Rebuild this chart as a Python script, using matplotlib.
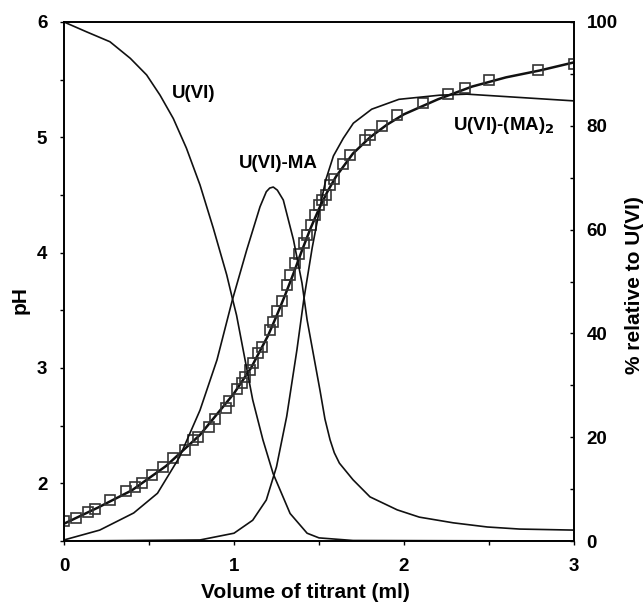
#!/usr/bin/env python3
import matplotlib
matplotlib.use("Agg")
import matplotlib.pyplot as plt
from matplotlib.ticker import MultipleLocator

plt.rcParams["font.family"] = ["Liberation Sans", "DejaVu Sans"]
plt.rcParams["font.weight"] = "bold"

# titration data (pH axis)
vol_points = [0.0, 0.07, 0.14, 0.18, 0.27, 0.365, 0.42, 0.46, 0.52, 0.58,
              0.64, 0.71, 0.76, 0.79, 0.85, 0.89, 0.95, 0.97, 1.02, 1.045,
              1.065, 1.094, 1.114, 1.143, 1.163, 1.21, 1.23, 1.25, 1.28, 1.31,
              1.33, 1.36, 1.38, 1.41, 1.43, 1.45, 1.476, 1.50, 1.52, 1.54,
              1.565, 1.59, 1.64, 1.68, 1.77, 1.80, 1.87, 1.96, 2.11, 2.26,
              2.36, 2.50, 2.79, 3.00]
ph_points = [1.67, 1.70, 1.75, 1.78, 1.855, 1.93, 1.97, 2.00, 2.07, 2.14,
             2.22, 2.29, 2.38, 2.40, 2.49, 2.56, 2.65, 2.71, 2.82, 2.87,
             2.92, 2.98, 3.04, 3.13, 3.18, 3.33, 3.40, 3.49, 3.58, 3.72,
             3.81, 3.91, 3.99, 4.08, 4.15, 4.24, 4.33, 4.41, 4.46, 4.50,
             4.59, 4.64, 4.77, 4.85, 4.98, 5.02, 5.10, 5.19, 5.30, 5.38,
             5.43, 5.50, 5.58, 5.64]

fit_vol = [0.0, 0.2, 0.4, 0.6, 0.8, 1.0, 1.1, 1.2, 1.25, 1.3, 1.35, 1.4,
           1.45, 1.5, 1.55, 1.6, 1.7, 1.8, 1.9, 2.0, 2.2, 2.4, 2.6, 2.8, 3.0]
fit_ph = [1.65, 1.79, 1.94, 2.15, 2.42, 2.78, 3.00, 3.28, 3.45, 3.63, 3.82,
          4.02, 4.21, 4.38, 4.53, 4.66, 4.86, 5.00, 5.11, 5.20, 5.33, 5.44,
          5.52, 5.58, 5.65]

# species distribution (% axis)
u_vol = [0.0, 0.133, 0.27, 0.39, 0.486, 0.565, 0.643, 0.72, 0.80, 0.878,
         0.957, 0.99, 1.015, 1.11, 1.17, 1.23, 1.33, 1.43, 1.5, 1.7, 3.0]
u_pct = [100, 98.1, 96.2, 93.0, 89.8, 85.9, 81.4, 75.7, 68.6, 60.3,
         51.3, 46.8, 43.5, 27.2, 19.5, 13.0, 5.3, 1.5, 0.6, 0.1, 0.0]

ma_vol = [0.0, 0.21, 0.41, 0.55, 0.68, 0.80, 0.90, 0.99, 1.075, 1.153,
          1.19, 1.21, 1.231, 1.255, 1.29, 1.35, 1.40, 1.43, 1.506, 1.535,
          1.565, 1.59, 1.62, 1.70, 1.80, 1.96, 2.09, 2.29, 2.49, 2.68, 3.0]
ma_pct = [0.2, 2.1, 5.4, 9.2, 16.2, 25.2, 34.9, 46.4, 56.1, 64.4,
          67.3, 68.0, 68.2, 67.6, 65.7, 58.0, 49.7, 42.6, 29.0, 23.5,
          19.5, 17.0, 15.0, 11.8, 8.5, 6.0, 4.6, 3.5, 2.7, 2.3, 2.1]

ma2_vol = [0.0, 0.8, 1.0, 1.11, 1.19, 1.25, 1.31, 1.37, 1.41, 1.46, 1.506,
           1.54, 1.585, 1.643, 1.702, 1.81, 1.97, 2.21, 2.37, 3.0]
ma2_pct = [0.0, 0.2, 1.5, 4.0, 7.9, 14.3, 24.0, 36.8, 46.4, 56.5, 64.4,
           69.6, 74.2, 77.6, 80.5, 83.2, 85.1, 85.9, 86.1, 84.8]

fig = plt.figure(figsize=(6.44, 6.04), dpi=100)
ax = fig.add_axes([64 / 644, 1 - 541 / 604, 510 / 644, 519 / 604])
ax2 = ax.twinx()

ax.plot(fit_vol, fit_ph, color="#111111", lw=1.8, zorder=3)
ax.plot(vol_points, ph_points, ls="none", marker="s", ms=7.6,
        mfc="none", mec="#333333", mew=1.2, zorder=4)

for xs, ys in [(u_vol, u_pct), (ma_vol, ma_pct), (ma2_vol, ma2_pct)]:
    ax2.plot(xs, ys, color="#111111", lw=1.2)

ax.set_xlim(0, 3)
ax.set_ylim(1.5, 6)
ax2.set_ylim(0, 100)

ax.xaxis.set_major_locator(MultipleLocator(1))
ax.xaxis.set_minor_locator(MultipleLocator(0.5))
ax.yaxis.set_major_locator(MultipleLocator(1))
ax.yaxis.set_minor_locator(MultipleLocator(0.5))
ax2.yaxis.set_major_locator(MultipleLocator(20))
ax2.yaxis.set_minor_locator(MultipleLocator(10))

ax.tick_params(axis="both", which="both", direction="out", length=3,
               width=1, labelsize=13.5, pad=9)
ax.tick_params(axis="y", which="both", right=False)
ax2.tick_params(axis="y", which="both", direction="in", length=3,
                width=1, labelsize=13.5, pad=9)

for a in (ax, ax2):
    for s in a.spines.values():
        s.set_linewidth(1.2)

ax.set_xlabel("Volume of titrant (ml)", fontsize=15, fontweight="bold")
ax.set_ylabel("pH", fontsize=15, fontweight="bold")
ax2.set_ylabel("% relative to U(VI)", fontsize=15, fontweight="bold")

ax.xaxis.set_label_coords(0.4725, -0.100)
ax.xaxis.label.set_va("center")
ax.yaxis.set_label_coords(-0.086, 0.465)
ax.yaxis.label.set_va("center")
ax2.yaxis.set_label_coords(1.1196, 0.493)
ax2.yaxis.label.set_va("center")

ax2.text(0.76, 86.3, "U(VI)", fontsize=13.5, fontweight="bold",
         ha="center", va="center")
ax2.text(1.26, 72.8, "U(VI)-MA", fontsize=13.5, fontweight="bold",
         ha="center", va="center")
ax2.text(2.59, 80.0, r"U(VI)-(MA)$_\mathbf{2}$", fontsize=13.5,
         fontweight="bold", ha="center", va="center")

fig.savefig("out.png", dpi=100)
